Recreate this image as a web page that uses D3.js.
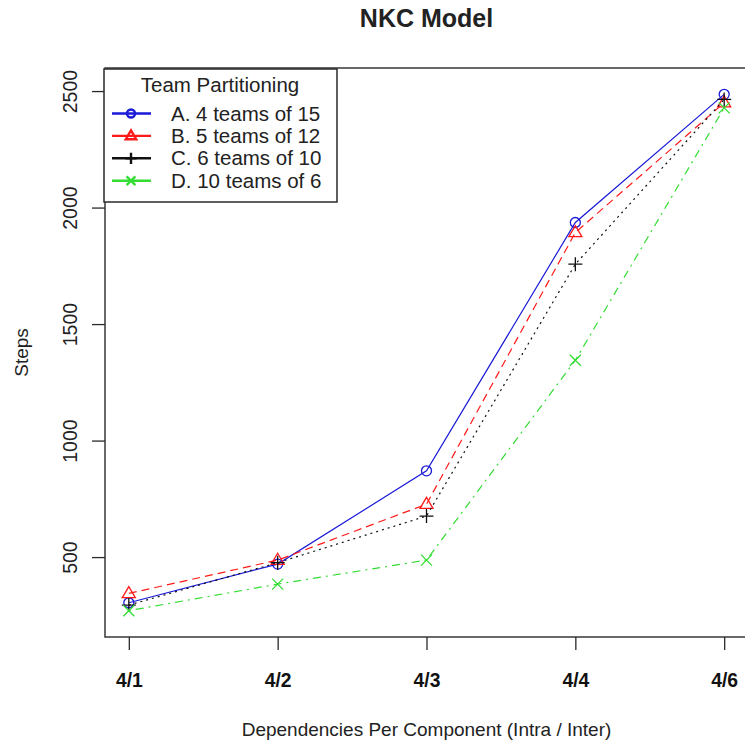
<!DOCTYPE html>
<html>
<head>
<meta charset="utf-8">
<script src="https://cdn.jsdelivr.net/npm/d3@7"></script>
<style>
  html, body { margin: 0; padding: 0; background: #fff; }
  svg { display: block; font-family: "Liberation Sans", Arial, sans-serif; }
</style>
</head>
<body>
<svg id="chart" width="745" height="745"></svg>
<script>
// Dependency settings on the x axis
const categories = ["4/1", "4/2", "4/3", "4/4", "4/6"];

// Mean steps for each team partitioning
const seriesA = [304, 470, 870, 1936, 2486];
const seriesB = [344, 487, 727, 1893, 2450];
const seriesC = [294, 476, 676, 1757, 2464];
const seriesD = [270, 384, 487, 1345, 2428];

const seriesNames = ["A. 4 teams of 15", "B. 5 teams of 12", "C. 6 teams of 10", "D. 10 teams of 6"];
const yTicks = [500, 1000, 1500, 2000, 2500];

const seriesStyles = [
  { values: seriesA, color: "#1a1ad8", dash: null,       shape: "circle" },
  { values: seriesB, color: "#ff1a1a", dash: "8,5",      shape: "triangle" },
  { values: seriesC, color: "#111111", dash: "2,4",      shape: "plus" },
  { values: seriesD, color: "#33dd33", dash: "2,5,8,5",  shape: "cross" }
];

const svg = d3.select("#chart");
const plot = { left: 105, top: 68, right: 748, bottom: 637 };

const x = d3.scalePoint().domain(categories).range([plot.left, plot.right]).padding(0.16);
const y = d3.scaleLinear().domain([157, 2599]).range([plot.bottom, plot.top]);

const axisColor = "#2a2a2a";
const textColor = "#222";

// Title
svg.append("text")
  .attr("x", (plot.left + plot.right) / 2).attr("y", 27)
  .attr("text-anchor", "middle")
  .attr("font-size", 25).attr("font-weight", "bold").attr("fill", textColor)
  .text("NKC Model");

// Plot frame
svg.append("rect")
  .attr("x", plot.left).attr("y", plot.top)
  .attr("width", plot.right - plot.left).attr("height", plot.bottom - plot.top)
  .attr("fill", "none").attr("stroke", axisColor).attr("stroke-width", 1.4);

// Y axis
const yAxis = d3.axisLeft(y).tickValues(yTicks).tickSize(13).tickPadding(0).tickFormat(d3.format("d"));
const gy = svg.append("g").attr("transform", `translate(${plot.left},0)`).call(yAxis);
gy.select(".domain").remove();
gy.selectAll(".tick line").attr("stroke", axisColor).attr("stroke-width", 1.3);
gy.selectAll(".tick text").remove();
gy.selectAll(".tick").append("text")
  .attr("transform", "translate(-28,0) rotate(-90)")
  .attr("text-anchor", "middle")
  .attr("font-size", 19.5).attr("fill", textColor)
  .text(d => d);

// X axis
const xAxis = d3.axisBottom(x).tickSize(13).tickPadding(0);
const gx = svg.append("g").attr("transform", `translate(0,${plot.bottom})`).call(xAxis);
gx.select(".domain").remove();
gx.selectAll(".tick line").attr("stroke", axisColor).attr("stroke-width", 1.3);
gx.selectAll(".tick text").remove();
gx.selectAll(".tick").append("text")
  .attr("transform", "translate(0,50) scale(0.92,1)")
  .attr("text-anchor", "middle")
  .attr("font-size", 21).attr("font-weight", "bold")
  .attr("fill", "#111")
  .text(d => d);

// Axis titles
svg.append("text")
  .attr("x", (plot.left + plot.right) / 2).attr("y", 736)
  .attr("text-anchor", "middle")
  .attr("font-size", 19).attr("fill", textColor)
  .text("Dependencies Per Component (Intra / Inter)");

svg.append("text")
  .attr("transform", `translate(28,${(plot.top + plot.bottom) / 2}) rotate(-90)`)
  .attr("text-anchor", "middle")
  .attr("font-size", 19).attr("fill", textColor)
  .text("Steps");

// Marker shapes
function drawMarker(g, shape, cx, cy, color, sw, s) {
  if (shape === "circle") {
    g.append("circle").attr("cx", cx).attr("cy", cy).attr("r", 5 * s)
      .attr("fill", "none").attr("stroke", color).attr("stroke-width", sw);
  } else if (shape === "triangle") {
    const h = 11 * s, w = 13 * s;
    g.append("path")
      .attr("d", `M${cx},${cy - h * 0.62}L${cx + w / 2},${cy + h * 0.38}L${cx - w / 2},${cy + h * 0.38}Z`)
      .attr("fill", "none").attr("stroke", color).attr("stroke-width", sw);
  } else if (shape === "plus") {
    const a = 7 * s;
    g.append("path")
      .attr("d", `M${cx - a},${cy}H${cx + a}M${cx},${cy - a}V${cy + a}`)
      .attr("stroke", color).attr("stroke-width", sw);
  } else {
    const a = 5.5 * s;
    g.append("path")
      .attr("d", `M${cx - a},${cy - a}L${cx + a},${cy + a}M${cx - a},${cy + a}L${cx + a},${cy - a}`)
      .attr("stroke", color).attr("stroke-width", sw);
  }
}

// Series lines and points
const line = d3.line().x((d, i) => x(categories[i])).y(d => y(d));
const marks = svg.append("g");
seriesStyles.forEach(s => {
  marks.append("path")
    .datum(s.values)
    .attr("d", line)
    .attr("fill", "none")
    .attr("stroke", s.color)
    .attr("stroke-width", 1.2)
    .attr("stroke-dasharray", s.dash);
  s.values.forEach((v, i) => drawMarker(marks, s.shape, x(categories[i]), y(v), s.color, 1.3, 1));
});

// Legend
const legend = svg.append("g");
legend.append("rect")
  .attr("x", 104).attr("y", 69).attr("width", 233).attr("height", 133)
  .attr("fill", "#fff").attr("stroke", axisColor).attr("stroke-width", 1.5);
legend.append("text")
  .attr("x", 220).attr("y", 92)
  .attr("text-anchor", "middle")
  .attr("font-size", 20.5).attr("fill", textColor)
  .text("Team Partitioning");
seriesStyles.forEach((s, i) => {
  const ly = 113.5 + i * 22.4;
  legend.append("line")
    .attr("x1", 112).attr("x2", 151).attr("y1", ly).attr("y2", ly)
    .attr("stroke", s.color).attr("stroke-width", 2.4);
  drawMarker(legend, s.shape, 131, ly, s.color, 2.4, 0.8);
  legend.append("text")
    .attr("x", 171).attr("y", ly + 7)
    .attr("font-size", 20.5).attr("fill", textColor)
    .text(seriesNames[i]);
});
</script>
</body>
</html>
